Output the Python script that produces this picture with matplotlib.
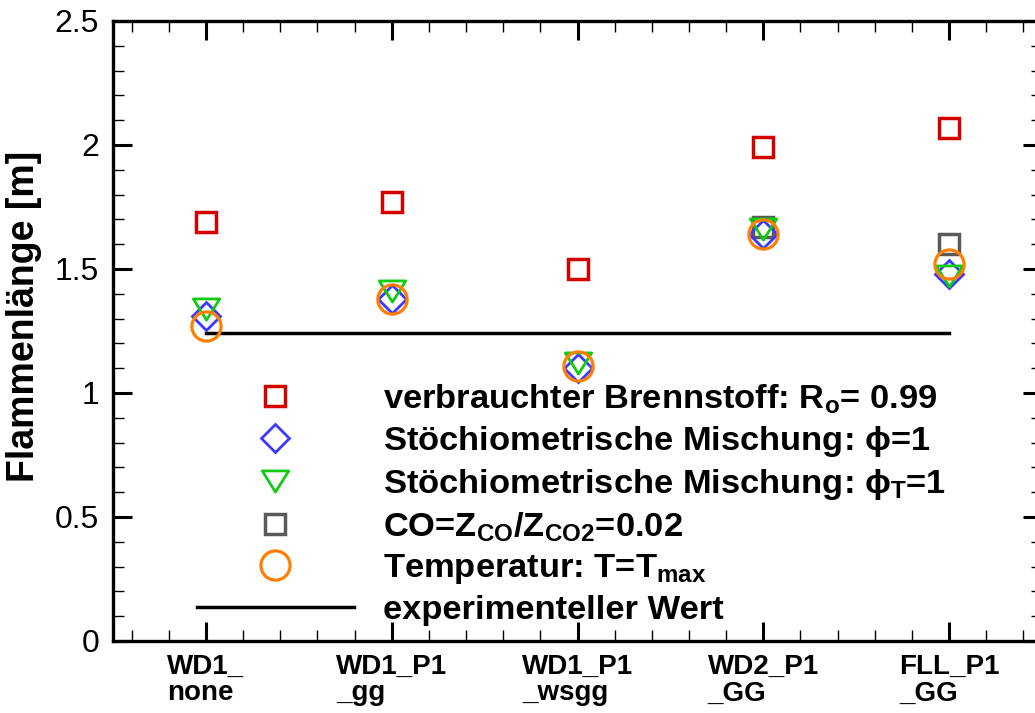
import numpy as np
import matplotlib
matplotlib.use("Agg")
import matplotlib.pyplot as plt
from matplotlib import font_manager
from matplotlib.path import Path
from matplotlib.ticker import FixedLocator, MultipleLocator, FuncFormatter

# categories (simulation cases) and the flame lengths
cases = ["WD1_\nnone", "WD1_P1\n_gg", "WD1_P1\n_wsgg", "WD2_P1\n_GG", "FLL_P1\n_GG"]
fuel_consumed = [1.69, 1.77, 1.50, 1.99, 2.07]
stoich_phi = [1.31, 1.38, 1.10, 1.64, 1.48]
stoich_phi_t = [1.34, 1.41, 1.12, 1.66, 1.47]
co_ratio = [np.nan, np.nan, np.nan, 1.67, 1.60]
temp_max = [1.27, 1.38, 1.11, 1.64, 1.52]
experiment = 1.24

labels = [
    r"verbrauchter Brennstoff: R$_o$= 0.99",
    r"Stöchiometrische Mischung: $\phi$=1",
    r"Stöchiometrische Mischung: $\phi_T$=1",
    r"CO=Z$_{CO}$/Z$_{CO2}$=0.02",
    r"Temperatur: T=T$_{max}$",
    "experimenteller Wert",
]

installed = {f.name for f in font_manager.fontManager.ttflist}
narrow = "Liberation Sans Narrow" if "Liberation Sans Narrow" in installed else "Liberation Sans"

plt.rcParams["font.family"] = ["Liberation Sans", "DejaVu Sans"]
plt.rcParams["mathtext.fontset"] = "custom"
plt.rcParams["mathtext.rm"] = "Liberation Sans:bold"
plt.rcParams["mathtext.it"] = "Liberation Sans:bold"
plt.rcParams["mathtext.bf"] = "Liberation Sans:bold"

# flat downward triangle (wider than tall)
tri_down = Path([(-1, 0.8), (1, 0.8), (0, -0.8), (-1, 0.8)],
                [Path.MOVETO, Path.LINETO, Path.LINETO, Path.CLOSEPOLY])

fig = plt.figure(figsize=(10.35, 7.13), dpi=100)
ax = fig.add_axes([113 / 1035, 1 - 641 / 713, 929 / 1035, 620 / 713])

x = np.arange(1, len(cases) + 1)
mew = 2.0
h_red, = ax.plot(x, fuel_consumed, ls="none", marker="s", ms=14.5, mfc="none",
                 mec="#d40000", mew=2.5, zorder=3)
h_blue, = ax.plot(x, stoich_phi, ls="none", marker="D", ms=14, mfc="none",
                  mec="#3a3aff", mew=mew, zorder=4)
h_green, = ax.plot(x, stoich_phi_t, ls="none", marker=tri_down, ms=19, mfc="none",
                   mec="#10cc10", mew=mew, zorder=5)
h_gray, = ax.plot(x, co_ratio, ls="none", marker="s", ms=14.5, mfc="none",
                  mec="#5a5a5a", mew=2.5, zorder=3.5)
h_orange, = ax.plot(x, temp_max, ls="none", marker="o", ms=21, mfc="none",
                    mec="#ff8000", mew=2.3, zorder=6)
h_exp, = ax.plot([x[0], x[-1]], [experiment, experiment], color="black", lw=2.5, zorder=2)

ax.set_xlim(0.5, 5.5)
ax.set_ylim(0, 2.5)

ax.xaxis.set_major_locator(FixedLocator(x))
ax.xaxis.set_minor_locator(MultipleLocator(0.2))
ax.yaxis.set_major_locator(MultipleLocator(0.5))
ax.yaxis.set_minor_locator(MultipleLocator(0.1))
ax.yaxis.set_major_formatter(FuncFormatter(lambda v, pos: f"{v:g}"))

ax.set_xticklabels(cases, fontfamily=narrow, fontweight="bold", fontsize=20,
                   linespacing=1.05, multialignment="left")
for t in ax.get_yticklabels():
    t.set_fontsize(23)

ax.tick_params(which="both", direction="in", top=True, right=True)
ax.tick_params(which="major", length=14, width=2.2)
ax.tick_params(which="minor", length=8, width=1.0)
ax.tick_params(axis="y", pad=10)
ax.tick_params(axis="x", pad=9)

for sp in ax.spines.values():
    sp.set_linewidth(2.4)

ax.set_ylabel("Flammenlänge [m]", fontsize=27, fontweight="bold")
ax.yaxis.set_label_coords(-0.076, 0.523)

ax.legend([h_red, h_blue, h_green, h_gray, h_orange, h_exp], labels,
          loc="upper left", bbox_to_anchor=(0.072, 0.445), frameon=False,
          borderpad=0, handlelength=4.55, handletextpad=0.85, labelspacing=0.24,
          prop={"weight": "bold", "size": 24.8, "family": "Liberation Sans"})

fig.savefig("out.png", dpi=100)
